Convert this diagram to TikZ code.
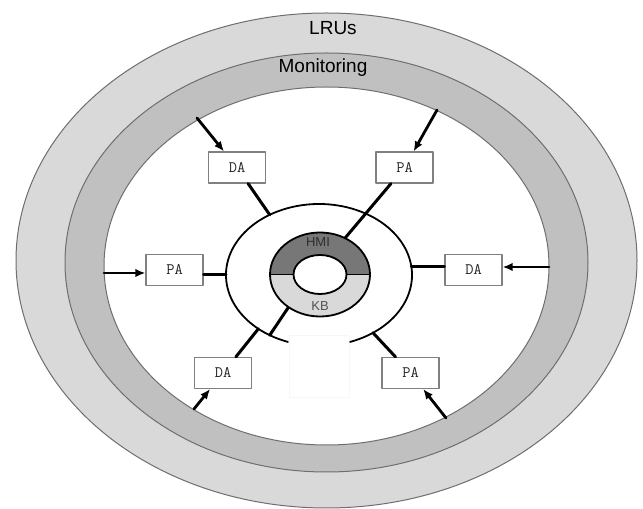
\documentclass[tikz,border=0pt]{standalone}
\usepackage{fontspec}
\setmainfont{Liberation Sans}
\usepackage{tikz}
\usetikzlibrary{calc}
\usetikzlibrary{arrows.meta}
\definecolor{lrugray}{HTML}{D9D9D9}
\definecolor{mongray}{HTML}{C0C0C0}
\definecolor{hmigray}{HTML}{777777}
\definecolor{kbgray}{HTML}{D9D9D9}
\definecolor{edgegray}{HTML}{6E6E6E}
\definecolor{boxgray}{HTML}{808080}

\begin{document}
\begin{tikzpicture}[x=1pt, y=1pt, line cap=round, line join=round,
  agent/.style={draw=boxgray, line width=1.2pt, fill=white, minimum width=57pt, minimum height=31pt, inner sep=0pt, font=\ttfamily\fontsize{16}{16}\selectfont, text=black!85},
  link/.style={line width=3pt},
  feed/.style={line width=2.8pt, -{Latex[length=10pt,width=8.5pt]}},
  shell/.style={draw=edgegray, line width=1pt}]
\useasboundingbox (0,0) rectangle (643,509);
% layers
\draw [shell, fill=lrugray] (326.5,248.5) ellipse [x radius=310.5pt, y radius=247.5pt];
\draw [shell, fill=mongray] (326.5,246.5) ellipse [x radius=261.5pt, y radius=209.5pt];
\draw [shell, fill=white] (326.5,243) ellipse [x radius=222.5pt, y radius=179pt];
\node (lrus) at (333,481) {\fontsize{19}{19}\selectfont LRUs};
\node (monitoring) at (323,441) {\fontsize{19}{19}\selectfont Monitoring};
% agents
\node [agent] (da1) at (237,341.5) {DA};
\node [agent] (pa1) at (404.5,341.5) {PA};
\node [agent] (pa2) at (174.5,239) {PA};
\node [agent] (da2) at (473.5,239) {DA};
\node [agent] (da3) at (223,136) {DA};
\node [agent] (pa3) at (410.5,136) {PA};
\node [draw=black!3, fill=white, minimum width=60pt, minimum height=62pt, inner sep=0pt] (gap) at (319,143) {};
% ring round the hub
\coordinate (ringc) at (319,234);
\coordinate (hub) at (320,234.5);
\draw [line width=1.8pt] ($(ringc)+(-70.5:93pt and 71pt)$) arc [start angle=-70.5, end angle=250.5, x radius=93pt, y radius=71pt];
\coordinate (r1) at ($(ringc)+(122:93pt and 71pt)$);
\coordinate (r3) at ($(ringc)+(180:93pt and 71pt)$);
\coordinate (r4) at ($(ringc)+(6.5:93pt and 71pt)$);
\coordinate (r5) at ($(ringc)+(229.3:93pt and 71pt)$);
\coordinate (r6) at ($(ringc)+(-54.5:93pt and 71pt)$);
\coordinate (r7) at ($(ringc)+(238:93pt and 71pt)$);
\coordinate (d1) at ($(hub)+(60:50pt and 42pt)$);
\coordinate (d2) at ($(hub)+(231:50pt and 42pt)$);
\draw [link] (da1) -- (r1);
\draw [link] (pa1) -- (d1);
\draw [link] (r3 -| pa2.east) -- (r3);
\draw [link] (r4) -- (r4 -| da2.west);
\draw [link] (da3) -- (r5);
\draw [link] (r7) -- (d2);
\draw [link] (pa3) -- (r6);
% hub
\fill [hmigray] (370,234.5) arc [start angle=0, end angle=180, x radius=50pt, y radius=42pt] -- cycle;
\fill [kbgray] (270,234.5) arc [start angle=180, end angle=360, x radius=50pt, y radius=42pt] -- cycle;
\draw [line width=1.8pt, fill=white] (hub) ellipse [x radius=26.5pt, y radius=19.5pt];
\draw [line width=1.8pt] (hub) ellipse [x radius=50pt, y radius=42pt];
\draw [line width=1.8pt] (270,234.5) -- (293.5,234.5);
\draw [line width=1.8pt] (346.5,234.5) -- (370,234.5);
\node [text=black!82] (hmi) at (318,267) {\fontsize{13}{13}\selectfont HMI};
\node [text=black!68] (kb) at (320,203) {\fontsize{13}{13}\selectfont KB};
% feeds from the monitoring layer
\coordinate (in1) at (197,391);
\coordinate (in2) at (437,399);
\coordinate (in3) at (104,236);
\coordinate (in4) at (549,242);
\coordinate (in5) at (194,100);
\coordinate (in6) at (446,91);
\draw [feed] (in1) -- (da1);
\draw [feed] (in2) -- (pa1);
\draw [feed] (in3) -- (in3 -| pa2.west);
\draw [feed] (in4) -- (in4 -| da2.east);
\draw [feed] (in5) -- (da3);
\draw [feed] (in6) -- (pa3);
\end{tikzpicture}
\end{document}
